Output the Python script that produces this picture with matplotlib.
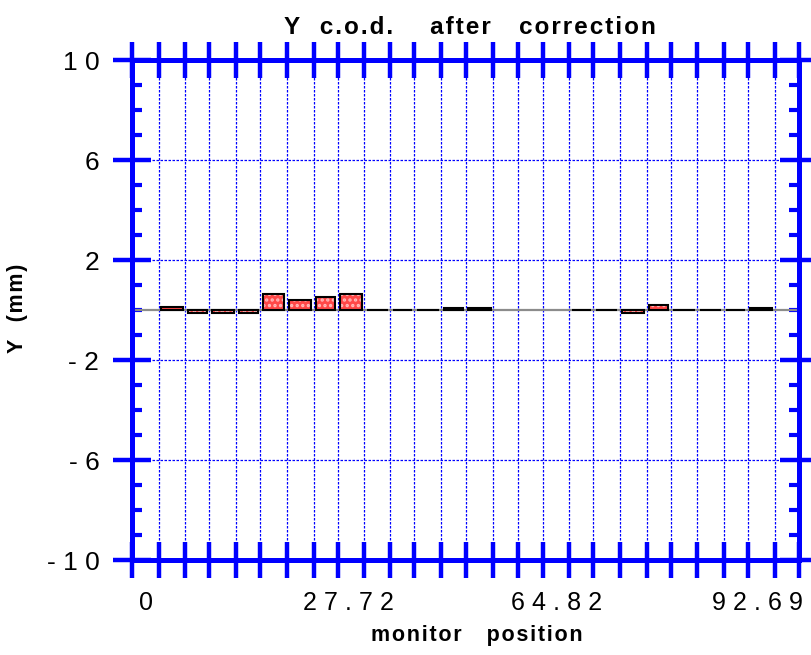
import numpy as np
import matplotlib
matplotlib.use("Agg")
import matplotlib.pyplot as plt
from matplotlib.ticker import FixedLocator, MultipleLocator

# monitor positions along the line (m) and vertical orbit between them (mm)
monitor_s = [4.0, 8.0, 11.55, 15.6, 19.2, 23.2, 27.25, 30.85, 34.8, 38.7,
             42.3, 46.35, 50.05, 54.15, 57.9, 61.55, 65.55, 69.15, 73.1,
             77.15, 80.75, 84.75, 88.75, 92.3, 96.35]
cod_y = [0.12, -0.12, -0.12, -0.12, 0.63, 0.39, 0.51, 0.63, 0.0, 0.0,
         0.0, 0.1, 0.1, np.nan, np.nan, np.nan, 0.0, 0.0, -0.12, 0.22,
         0.0, 0.0, 0.0, 0.1]
x_tick_text = ["0", "27.72", "64.82", "92.69"]
y_tick_vals = [-10, -6, -2, 2, 6, 10]
y_tick_text = ["- 1 0", "- 6", "- 2", "2", "6", "1 0"]

BLUE = "#0000ff"
S_MAX = 100.0

plt.rcParams["font.family"] = ["Liberation Sans", "DejaVu Sans"]
plt.rcParams["hatch.linewidth"] = 1.6


def spaced(text, gap="\u200a"):
    return gap.join(text)


fig = plt.figure(figsize=(8.11, 6.55), dpi=100)
ax = fig.add_axes([132 / 811, 95 / 655, 667 / 811, 500 / 655])
ax.set_xlim(0, S_MAX)
ax.set_ylim(-10, 10)

# reference line at zero
ax.axhline(0, color="#8c8c8c", lw=1.6, zorder=2)

s = np.array(monitor_s)
y = np.array(cod_y)
mid = (s[:-1] + s[1:]) / 2
w = np.diff(s) - 0.75
ok = ~np.isnan(y)
ax.bar(mid[ok], y[ok], width=w[ok], color="#ff4848", lw=0, zorder=3)
ax.bar(mid[ok], y[ok], width=w[ok], fill=False, hatch="...",
       edgecolor="#ffbcbc", lw=0, zorder=4)
ax.bar(mid[ok], y[ok], width=w[ok], fill=False, edgecolor="black",
       lw=1.5, zorder=5)

# x axis: monitor marks as minor ticks, text labels as major ticks
ax.xaxis.set_minor_locator(FixedLocator([0.0] + monitor_s + [S_MAX]))
ax.set_xticks([2.1, 32.4, 63.7, 93.7],
              [spaced(t, "\u2009\u200a") for t in x_tick_text])
ax.tick_params(axis="x", which="major", length=0, pad=22, labelsize=18)
ax.tick_params(axis="x", which="minor", direction="inout", length=26,
               width=3.2, color=BLUE, top=True, bottom=True)

ax.set_yticks(y_tick_vals, y_tick_text)
ax.yaxis.set_minor_locator(MultipleLocator(1))
ax.tick_params(axis="y", which="major", direction="inout", length=28,
               width=3.2, color=BLUE, left=True, right=True, pad=9.5,
               labelsize=19)
ax.tick_params(axis="y", which="minor", direction="in", length=7.5,
               width=3.0, color=BLUE, left=True, right=True)

for sp in ax.spines.values():
    sp.set_color(BLUE)
    sp.set_linewidth(3.6)

ax.grid(which="minor", axis="x", color=BLUE, ls=(0, (2, 1.2)), lw=0.9)
ax.grid(which="major", axis="y", color=BLUE, ls=(0, (2, 1.2)), lw=0.9)
ax.set_axisbelow(True)

fig.text(470 / 811, 1 - 27 / 655, spaced("Y  c.o.d.    after   correction"),
         ha="center", va="center", fontsize=17.5, fontweight="bold")
fig.text(477 / 811, 1 - 636 / 655, spaced("monitor   position"),
         ha="center", va="center", fontsize=15.5, fontweight="bold")
fig.text(18 / 811, 1 - 308 / 655, spaced("Y  (mm)"), rotation=90,
         ha="center", va="center", fontsize=15.5, fontweight="bold")

fig.savefig("out.png", dpi=100)
